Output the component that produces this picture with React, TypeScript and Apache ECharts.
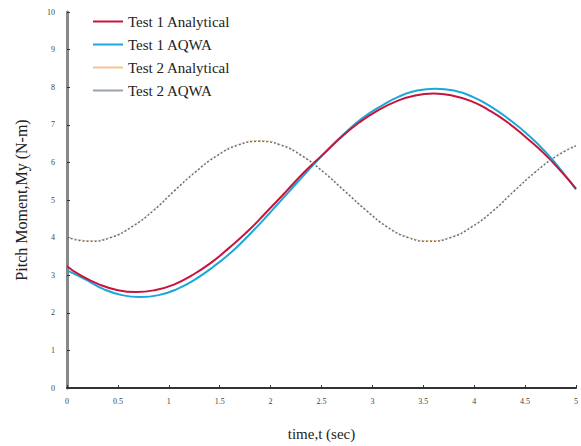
import React, { useEffect, useRef } from "react";
import * as echarts from "echarts";

const test1AnalyticalT = [0, 0.13, 0.32, 0.5, 0.68, 0.86, 1.05, 1.23, 1.41, 1.59, 1.78, 1.96, 2.14, 2.32, 2.51, 2.69, 2.87, 3.05, 3.24, 3.42, 3.6, 3.78, 3.97, 4.15, 4.33, 4.51, 4.7, 4.88, 5];
const test1AnalyticalY = [3.24, 3.0, 2.75, 2.6, 2.55, 2.6, 2.75, 3.0, 3.32, 3.72, 4.18, 4.68, 5.19, 5.71, 6.2, 6.66, 7.06, 7.38, 7.63, 7.78, 7.83, 7.78, 7.63, 7.38, 7.06, 6.66, 6.2, 5.68, 5.3];
const test1AQWAT = [0, 0.18, 0.36, 0.54, 0.72, 0.9, 1.08, 1.26, 1.44, 1.63, 1.81, 1.99, 2.17, 2.35, 2.53, 2.71, 2.89, 3.08, 3.26, 3.44, 3.62, 3.8, 3.98, 4.16, 4.34, 4.53, 4.71, 4.89, 5];
const test1AQWAY = [3.13, 2.89, 2.63, 2.47, 2.42, 2.47, 2.63, 2.89, 3.23, 3.65, 4.13, 4.65, 5.19, 5.73, 6.25, 6.73, 7.15, 7.49, 7.75, 7.91, 7.96, 7.91, 7.75, 7.49, 7.15, 6.73, 6.25, 5.67, 5.28];
const test2T = [0, 0.22, 0.43, 0.64, 0.85, 1.05, 1.26, 1.47, 1.68, 1.89, 2.1, 2.31, 2.52, 2.73, 2.94, 3.14, 3.35, 3.56, 3.77, 3.98, 4.19, 4.39, 4.6, 4.81, 5];
const test2AnalyticalY = [4.03, 3.92, 4.02, 4.31, 4.74, 5.25, 5.76, 6.19, 6.48, 6.58, 6.48, 6.19, 5.76, 5.25, 4.74, 4.31, 4.02, 3.92, 4.02, 4.31, 4.74, 5.25, 5.76, 6.19, 6.46];
const test2AQWAY = [4.01, 3.9, 4.0, 4.29, 4.72, 5.23, 5.74, 6.17, 6.46, 6.56, 6.46, 6.17, 5.74, 5.23, 4.72, 4.29, 4.0, 3.9, 4.0, 4.29, 4.72, 5.23, 5.74, 6.17, 6.44];
const seriesNames = ["Test 1 Analytical", "Test 1 AQWA", "Test 2 Analytical", "Test 2 AQWA"];

const pair = (ts: number[], ys: number[]) => ts.map((t, i) => [t, ys[i]]);

export default function App() {
  const ref = useRef<HTMLDivElement>(null);
  useEffect(() => {
    if (!ref.current) return;
    const chart = echarts.init(ref.current, undefined, { renderer: "svg" });
    const serif = "'Liberation Serif', 'Times New Roman', serif";
    chart.setOption({
      animation: false,
      backgroundColor: "#ffffff",
      textStyle: { fontFamily: serif },
      grid: { left: 67, right: 3, top: 12, bottom: 52, containLabel: false },
      legend: {
        orient: "vertical",
        left: 88,
        top: 9,
        itemGap: 8,
        itemWidth: 30,
        itemHeight: 2,
        icon: "rect",
        data: seriesNames,
        textStyle: { fontFamily: serif, fontSize: 15, color: "#222" },
      },
      xAxis: {
        type: "value",
        min: 0,
        max: 5,
        interval: 0.5,
        name: "time,t (sec)",
        nameLocation: "middle",
        nameGap: 38,
        nameTextStyle: { fontFamily: serif, fontSize: 15, color: "#222" },
        axisLine: { lineStyle: { color: "#333", width: 2 } },
        axisTick: { show: true, length: 3, inside: true, lineStyle: { color: "#333" } },
        axisLabel: { fontFamily: serif, fontSize: 8, color: "#444", margin: 9 },
        splitLine: { show: false },
      },
      yAxis: {
        type: "value",
        min: 0,
        max: 10,
        interval: 1,
        name: "Pitch Moment,My (N-m)",
        nameLocation: "middle",
        nameGap: 38,
        nameTextStyle: { fontFamily: serif, fontSize: 16, color: "#222" },
        axisLine: { show: true, lineStyle: { color: "#888", width: 3 } },
        axisTick: { show: true, length: 3, inside: true, lineStyle: { color: "#333" } },
        axisLabel: { fontFamily: serif, fontSize: 8, color: "#444", margin: 12 },
        splitLine: { show: false },
      },
      series: [
        {
          name: seriesNames[0],
          type: "line",
          smooth: true,
          showSymbol: false,
          data: pair(test1AnalyticalT, test1AnalyticalY),
          lineStyle: { color: "#c8143c", width: 2 },
          itemStyle: { color: "#c8143c" },
          z: 4,
        },
        {
          name: seriesNames[1],
          type: "line",
          smooth: true,
          showSymbol: false,
          data: pair(test1AQWAT, test1AQWAY),
          lineStyle: { color: "#1ba8d8", width: 2 },
          itemStyle: { color: "#1ba8d8" },
          z: 3,
        },
        {
          name: seriesNames[2],
          type: "line",
          smooth: true,
          showSymbol: false,
          data: pair(test2T, test2AnalyticalY),
          lineStyle: { color: "#f3c48e", width: 1, type: "dotted" },
          itemStyle: { color: "#f3c48e" },
          z: 2,
        },
        {
          name: seriesNames[3],
          type: "line",
          smooth: true,
          showSymbol: false,
          data: pair(test2T, test2AQWAY),
          lineStyle: { color: "#66727f", width: 1.5, type: [2, 2] },
          itemStyle: { color: "#9aa3ad" },
          z: 5,
        },
      ],
    });
    return () => chart.dispose();
  }, []);
  return <div ref={ref} style={{ width: 581, height: 446, position: "absolute", left: 0, top: 0 }} />;
}
